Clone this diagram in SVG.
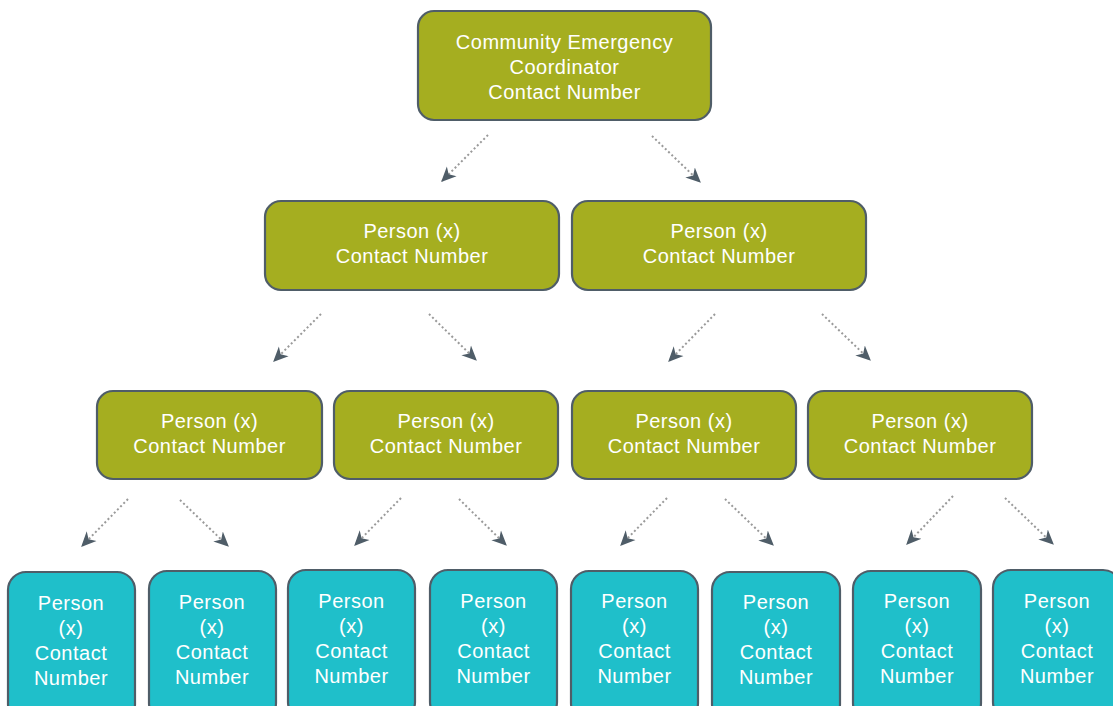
<svg xmlns="http://www.w3.org/2000/svg" width="1113" height="706" viewBox="0 0 1113 706">
<defs>
<style>
.g{fill:#a5ae20;stroke:#4f5d68;stroke-width:2.2}
.c{fill:#1fbfca;stroke:#4f5d68;stroke-width:2.2}
.t{font-family:"Liberation Sans",Arial,sans-serif;font-size:20px;fill:#ffffff;text-anchor:middle;letter-spacing:0.5px}
.a{stroke:#9a9a9a;stroke-width:2;stroke-dasharray:2 2.5;fill:none;marker-end:url(#ah)}
</style>
<marker id="ah" viewBox="0 0 12 12" refX="11" refY="6" markerWidth="15" markerHeight="15" markerUnits="userSpaceOnUse" orient="auto">
<path d="M0,0.5 L12,6 L0,11.5 L3.5,6 Z" fill="#4f5d68"/>
</marker>
</defs>
<rect width="1113" height="706" fill="#ffffff"/>
<g id="connectors">
<line class="a" x1="488" y1="135" x2="442" y2="181"/>
<line class="a" x1="652" y1="136" x2="700" y2="182"/>
<line class="a" x1="321" y1="314" x2="274" y2="361"/>
<line class="a" x1="429" y1="314" x2="476" y2="360"/>
<line class="a" x1="715" y1="314" x2="669" y2="361"/>
<line class="a" x1="822" y1="314" x2="870" y2="360"/>
<line class="a" x1="128" y1="499" x2="82" y2="546"/>
<line class="a" x1="180" y1="500" x2="228" y2="546"/>
<line class="a" x1="401" y1="498" x2="355" y2="545"/>
<line class="a" x1="459" y1="499" x2="506" y2="545"/>
<line class="a" x1="667" y1="498" x2="621" y2="545"/>
<line class="a" x1="725" y1="499" x2="773" y2="545"/>
<line class="a" x1="953" y1="496" x2="907" y2="544"/>
<line class="a" x1="1005" y1="498" x2="1053" y2="544"/>
</g>
<g id="n0">
<rect class="g" x="418" y="11" width="293" height="109" rx="16"/>
<text class="t" x="564.5" y="49">Community Emergency</text>
<text class="t" x="564.5" y="74">Coordinator</text>
<text class="t" x="564.5" y="99">Contact Number</text>
</g>
<g id="n1">
<rect class="g" x="265" y="201" width="294" height="89" rx="16"/>
<text class="t" x="412" y="238">Person (x)</text>
<text class="t" x="412" y="263">Contact Number</text>
</g>
<g id="n2">
<rect class="g" x="572" y="201" width="294" height="89" rx="16"/>
<text class="t" x="719" y="238">Person (x)</text>
<text class="t" x="719" y="263">Contact Number</text>
</g>
<g id="n3">
<rect class="g" x="97" y="391" width="225" height="88" rx="16"/>
<text class="t" x="209.5" y="428">Person (x)</text>
<text class="t" x="209.5" y="453">Contact Number</text>
</g>
<g id="n4">
<rect class="g" x="334" y="391" width="224" height="88" rx="16"/>
<text class="t" x="446" y="428">Person (x)</text>
<text class="t" x="446" y="453">Contact Number</text>
</g>
<g id="n5">
<rect class="g" x="572" y="391" width="224" height="88" rx="16"/>
<text class="t" x="684" y="428">Person (x)</text>
<text class="t" x="684" y="453">Contact Number</text>
</g>
<g id="n6">
<rect class="g" x="808" y="391" width="224" height="88" rx="16"/>
<text class="t" x="920" y="428">Person (x)</text>
<text class="t" x="920" y="453">Contact Number</text>
</g>
<g id="n7">
<rect class="c" x="8" y="572" width="127" height="150" rx="18"/>
<text class="t" x="71" y="610">Person</text><text class="t" x="71" y="635">(x)</text><text class="t" x="71" y="660">Contact</text><text class="t" x="71" y="685">Number</text>
</g>
<g id="n8">
<rect class="c" x="149" y="571" width="127" height="150" rx="18"/>
<text class="t" x="212" y="609">Person</text><text class="t" x="212" y="634">(x)</text><text class="t" x="212" y="659">Contact</text><text class="t" x="212" y="684">Number</text>
</g>
<g id="n9">
<rect class="c" x="288" y="570" width="127" height="150" rx="18"/>
<text class="t" x="351.5" y="608">Person</text><text class="t" x="351.5" y="633">(x)</text><text class="t" x="351.5" y="658">Contact</text><text class="t" x="351.5" y="683">Number</text>
</g>
<g id="n10">
<rect class="c" x="430" y="570" width="127" height="150" rx="18"/>
<text class="t" x="493.5" y="608">Person</text><text class="t" x="493.5" y="633">(x)</text><text class="t" x="493.5" y="658">Contact</text><text class="t" x="493.5" y="683">Number</text>
</g>
<g id="n11">
<rect class="c" x="571" y="571" width="127" height="150" rx="18"/>
<text class="t" x="634.5" y="608">Person</text><text class="t" x="634.5" y="633">(x)</text><text class="t" x="634.5" y="658">Contact</text><text class="t" x="634.5" y="683">Number</text>
</g>
<g id="n12">
<rect class="c" x="712" y="572" width="128" height="150" rx="18"/>
<text class="t" x="776" y="609">Person</text><text class="t" x="776" y="634">(x)</text><text class="t" x="776" y="659">Contact</text><text class="t" x="776" y="684">Number</text>
</g>
<g id="n13">
<rect class="c" x="853" y="571" width="128" height="150" rx="18"/>
<text class="t" x="917" y="608">Person</text><text class="t" x="917" y="633">(x)</text><text class="t" x="917" y="658">Contact</text><text class="t" x="917" y="683">Number</text>
</g>
<g id="n14">
<rect class="c" x="993" y="570" width="128" height="150" rx="18"/>
<text class="t" x="1057" y="608">Person</text><text class="t" x="1057" y="633">(x)</text><text class="t" x="1057" y="658">Contact</text><text class="t" x="1057" y="683">Number</text>
</g>
</svg>
